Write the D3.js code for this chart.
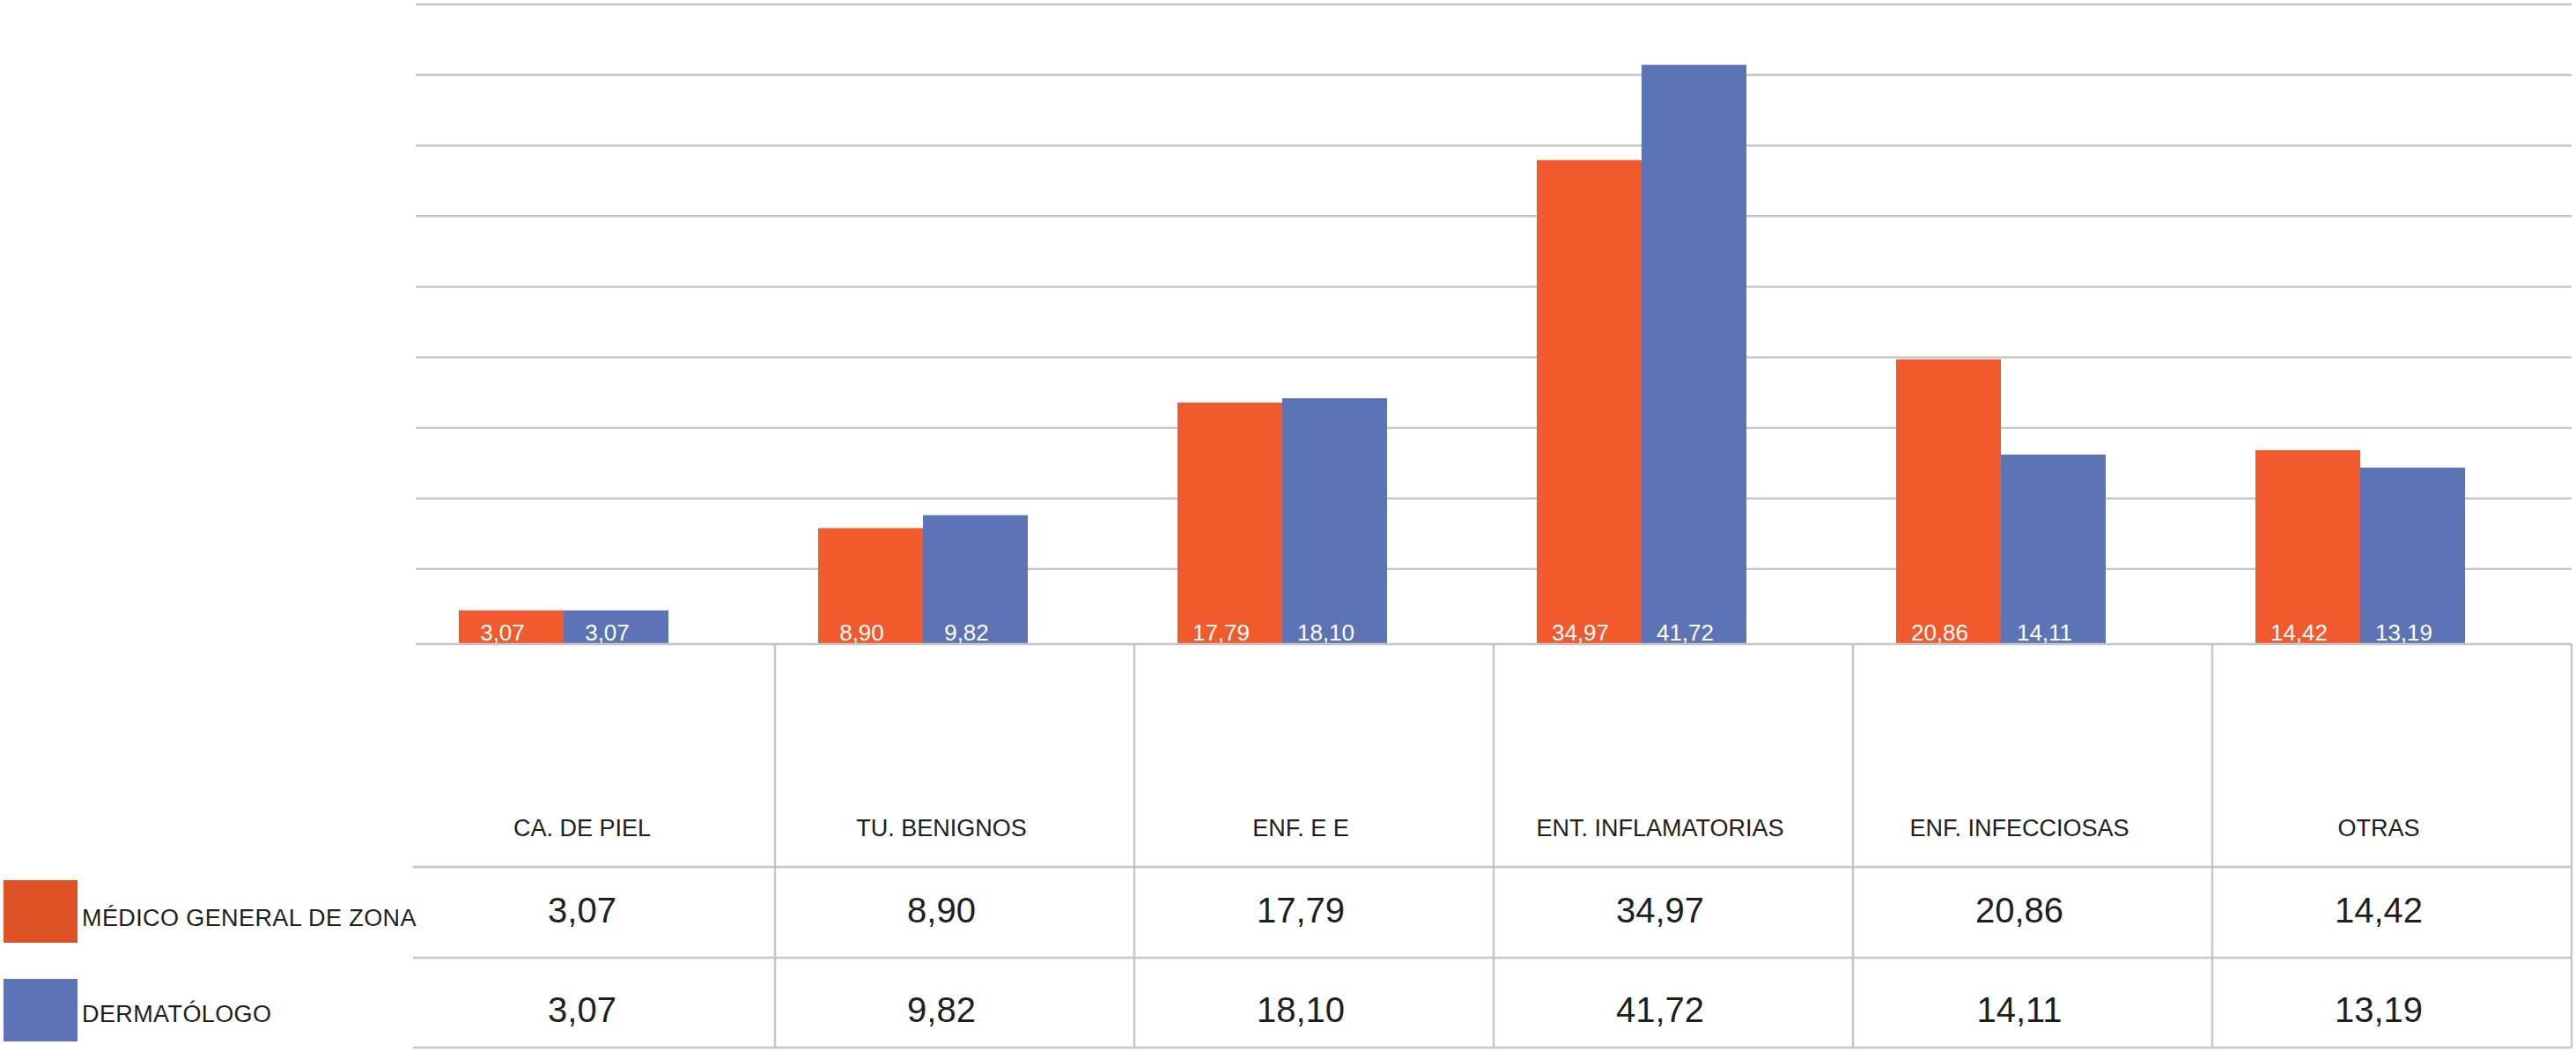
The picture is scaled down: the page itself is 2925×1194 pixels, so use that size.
<!DOCTYPE html>
<html>
<head>
<meta charset="utf-8">
<script src="https://cdn.jsdelivr.net/npm/d3@7"></script>
<style>
  html, body { margin: 0; padding: 0; background: #ffffff; }
  svg { display: block; }
  text { font-family: "Liberation Sans", Arial, Helvetica, sans-serif; }
</style>
</head>
<body>
<svg id="chart" width="2925" height="1194"></svg>
<script>
// ---- data ----
const categories = ["CA. DE PIEL", "TU. BENIGNOS", "ENF. E E", "ENT. INFLAMATORIAS", "ENF. INFECCIOSAS", "OTRAS"];
const seriesNames = ["MÉDICO GENERAL DE ZONA", "DERMATÓLOGO"];
const medicoGeneral = [3.07, 8.90, 17.79, 34.97, 20.86, 14.42];
const dermatologo = [3.07, 9.82, 18.10, 41.72, 14.11, 13.19];
const gridValues = [6, 11, 16, 21, 26, 31, 36, 41, 46];

// ---- layout ----
const W = 2925, H = 1194;
const left = 472, right = 2920;
const baseY = 731;
const rowLines = [984, 1087, 1189];
const colors = ["#F05A2C", "#5C74B6"];
const legendColors = ["#DE5226", "#5C74B6"];
const gridColor = "#C6C6C6";
const fmt = v => d3.format(".2f")(v).replace(".", ",");

const svg = d3.select("#chart");

const x = d3.scaleBand().domain(categories).range([left, right]).padding(0);
const y = d3.scaleLinear().domain([0, 46]).range([742, 5]);
const barW = 119;
const pairOffset = -36;
const series = [medicoGeneral, dermatologo];

// gridlines
svg.append("g").selectAll("line").data(gridValues).join("line")
  .attr("x1", left).attr("x2", right)
  .attr("y1", d => y(d)).attr("y2", d => y(d))
  .attr("stroke", gridColor).attr("stroke-width", 2.5);

// bars
const center = c => x(c) + x.bandwidth() / 2 + pairOffset;
series.forEach((vals, si) => {
  const g = svg.append("g");
  g.selectAll("rect").data(categories).join("rect")
    .attr("x", (c) => center(c) + (si === 0 ? -barW : 0))
    .attr("y", (c, i) => y(vals[i]))
    .attr("width", barW)
    .attr("height", (c, i) => baseY - y(vals[i]))
    .attr("fill", colors[si]);
  g.selectAll("text").data(categories).join("text")
    .attr("x", (c) => center(c) + (si === 0 ? -barW / 2 : barW / 2) - 10)
    .attr("y", 727)
    .attr("text-anchor", "middle")
    .attr("font-size", 26)
    .attr("fill", "#ffffff")
    .text((c, i) => fmt(vals[i]));
});

// table lines
const tg = svg.append("g").attr("stroke", gridColor).attr("stroke-width", 2.5);
tg.append("line").attr("x1", left).attr("x2", right).attr("y1", baseY).attr("y2", baseY);
tg.selectAll("line.row").data(rowLines).join("line").attr("class", "row")
  .attr("x1", left - 3).attr("x2", right).attr("y1", d => d).attr("y2", d => d);
tg.selectAll("line.col").data(categories).join("line").attr("class", "col")
  .attr("x1", c => x(c) + x.bandwidth()).attr("x2", c => x(c) + x.bandwidth())
  .attr("y1", baseY).attr("y2", rowLines[2]);

// table text
const textOff = -15;
svg.append("g").selectAll("text").data(categories).join("text")
  .attr("x", c => x(c) + x.bandwidth() / 2 + textOff)
  .attr("y", 949)
  .attr("text-anchor", "middle")
  .attr("font-size", 27)
  .attr("fill", "#1e1e1e")
  .text(c => c);

const rowBase = [1047, 1160];
series.forEach((vals, si) => {
  svg.append("g").selectAll("text").data(categories).join("text")
    .attr("x", c => x(c) + x.bandwidth() / 2 + textOff)
    .attr("y", rowBase[si])
    .attr("text-anchor", "middle")
    .attr("font-size", 40)
    .attr("fill", "#1e1e1e")
    .text((c, i) => fmt(vals[i]));
});

// legend
const legTop = [999, 1111];
const legBase = [1051, 1160];
seriesNames.forEach((n, si) => {
  svg.append("rect").attr("x", 4).attr("y", legTop[si]).attr("width", 84).attr("height", 71)
    .attr("fill", legendColors[si]);
  svg.append("text").attr("x", 93).attr("y", legBase[si])
    .attr("font-size", 27).attr("fill", "#1e1e1e").attr("letter-spacing", 0.4)
    .text(n);
});
</script>
</body>
</html>
